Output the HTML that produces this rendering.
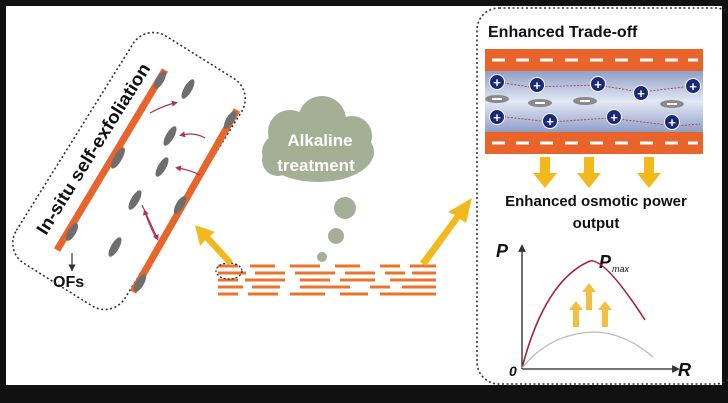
<!DOCTYPE html>
<html><head><meta charset="utf-8"><style>
html,body{margin:0;padding:0;background:#111;}
svg{display:block;font-family:"Liberation Sans",sans-serif;}
</style></head><body>
<svg width="728" height="403" viewBox="0 0 728 403">
<rect width="728" height="403" fill="#111"/>
<rect x="6" y="6" width="716" height="379" fill="#fff"/>
<defs>
<marker id="ya" markerWidth="6" markerHeight="6" refX="3" refY="3" orient="auto"><path d="M0,0 L6,3 L0,6z" fill="#333"/></marker>
<marker id="ra" markerWidth="5" markerHeight="5" refX="2.5" refY="2.5" orient="auto"><path d="M0,0 L5,2.5 L0,5z" fill="#b03050"/></marker>
<linearGradient id="ch" x1="0" y1="0" x2="0" y2="1"><stop offset="0" stop-color="#8e9fc8"/><stop offset="0.5" stop-color="#e4e8f4"/><stop offset="1" stop-color="#8e9fc8"/></linearGradient>
</defs>
<!-- left panel -->
<g transform="translate(129,171) rotate(-58)">
<rect x="-134" y="-64" width="268" height="128" rx="24" fill="none" stroke="#333" stroke-width="1.6" stroke-dasharray="2,2.5"/>
</g>
<line x1="57" y1="250" x2="165" y2="70" stroke="#e8642a" stroke-width="7"/>
<line x1="133" y1="292" x2="237" y2="110" stroke="#e8642a" stroke-width="7"/>
<g fill="#6e6e6e">
<ellipse cx="160" cy="80" rx="4" ry="10" transform="rotate(30 160 80)"/>
<ellipse cx="118" cy="158" rx="4" ry="12" transform="rotate(30 118 158)"/>
<ellipse cx="72" cy="232" rx="4" ry="10" transform="rotate(30 72 232)"/>
<ellipse cx="230" cy="120" rx="4" ry="10" transform="rotate(30 230 120)"/>
<ellipse cx="180" cy="205" rx="4" ry="10" transform="rotate(30 180 205)"/>
<ellipse cx="140" cy="283" rx="4" ry="10" transform="rotate(30 140 283)"/>
<ellipse cx="188" cy="89" rx="4" ry="11" transform="rotate(30 188 89)"/>
<ellipse cx="170" cy="136" rx="4" ry="11" transform="rotate(30 170 136)"/>
<ellipse cx="162" cy="167" rx="4" ry="11" transform="rotate(30 162 167)"/>
<ellipse cx="135" cy="200" rx="4" ry="11" transform="rotate(30 135 200)"/>
<ellipse cx="115" cy="247" rx="4" ry="11" transform="rotate(30 115 247)"/>
</g>
<g stroke="#b03050" stroke-width="1.2" fill="none" marker-end="url(#ra)">
<path d="M150,113 Q165,105 175,103"/>
<path d="M205,138 Q195,132 182,135"/>
<path d="M200,175 Q190,170 178,168"/>
<path d="M142,205 Q150,222 157,238"/>
<path d="M155,236 Q148,222 145,212"/>
</g>
<text x="0" y="0" font-size="18" font-weight="bold" fill="#111" textLength="198" lengthAdjust="spacingAndGlyphs" transform="translate(46,236) rotate(-58)">In-situ self-exfoliation</text>
<line x1="72" y1="253" x2="72" y2="268" stroke="#333" stroke-width="1.2" marker-end="url(#ya)"/>
<text x="53" y="287" font-size="16" font-weight="bold" fill="#111">OFs</text>
<!-- cloud -->
<g fill="#a3b096">
<ellipse cx="318" cy="152" rx="56" ry="30"/>
<circle cx="290" cy="132" r="22"/>
<circle cx="322" cy="120" r="24"/>
<circle cx="352" cy="136" r="20"/>
<circle cx="278" cy="160" r="16"/>
<circle cx="345" cy="208" r="11"/>
<circle cx="336" cy="236" r="8"/>
<circle cx="322" cy="257" r="5"/>
</g>
<text x="320" y="146" font-size="17" font-weight="bold" fill="#fff" text-anchor="middle">Alkaline</text>
<text x="316" y="171" font-size="17" font-weight="bold" fill="#fff" text-anchor="middle">treatment</text>
<!-- layers -->
<g stroke="#e8742e" stroke-width="3">
<path d="M218,266h20 M250,266h25 M290,266h30 M335,266h25 M380,266h20 M410,266h26"/>
<path d="M218,273h28 M255,273h30 M295,273h40 M345,273h30 M385,273h20 M412,273h24"/>
<path d="M218,280h20 M245,280h40 M300,280h30 M340,280h35 M390,280h46"/>
<path d="M218,287h25 M252,287h28 M300,287h50 M370,287h20 M402,287h34"/>
<path d="M218,294h20 M248,294h30 M290,294h35 M340,294h28 M380,294h56"/>
</g>
<ellipse cx="229" cy="271" rx="13" ry="8" fill="none" stroke="#222" stroke-width="1.2" stroke-dasharray="2,2"/>
<!-- yellow arrows -->
<path d="M228,265 L205,240 L200,246 L195,225 L215,232 L210,236 L233,261z" fill="#f2b81c"/>
<path d="M420,262 L455,215 L448,212 L472,198 L466,223 L460,219 L426,266z" fill="#f2b81c"/>
<!-- right panel -->
<rect x="477" y="8" width="260" height="376" rx="22" fill="none" stroke="#333" stroke-width="1.6" stroke-dasharray="2,2.5"/>
<text x="488" y="37" font-size="16" font-weight="bold" fill="#111">Enhanced Trade-off</text>
<rect x="485" y="49" width="218" height="22" fill="#e8642a"/>
<rect x="485" y="71" width="218" height="61" fill="url(#ch)"/>
<rect x="485" y="132" width="218" height="22" fill="#e8642a"/>
<g stroke="#fff" stroke-width="3">
<path d="M492,60h13 M516,60h13 M540,60h13 M565,60h13 M590,60h13 M615,60h13 M640,60h13 M665,60h13 M688,60h10"/>
<path d="M492,143h13 M516,143h13 M540,143h13 M565,143h13 M590,143h13 M615,143h13 M640,143h13 M665,143h13 M688,143h10"/>
</g>
<g fill="#8a8a8a"><ellipse cx="497" cy="99" rx="12" ry="4"/><ellipse cx="540" cy="103" rx="12" ry="4"/><ellipse cx="585" cy="101" rx="12" ry="4"/><ellipse cx="672" cy="104" rx="12" ry="4"/></g>
<g stroke="#fff" stroke-width="2"><path d="M492,99h10 M535,103h10 M580,101h10 M667,104h10"/></g>
<g stroke="#c04060" stroke-width="1" stroke-dasharray="2,1.5" fill="none"><path d="M497,82 L530,87 L598,85 L640,92 L693,86"/><path d="M497,116 L550,122 L610,118 L675,126 L700,124"/></g>
<g fill="#1b2a78" stroke="#fff" stroke-width="1">
<circle cx="497" cy="82" r="7.5"/><circle cx="537" cy="85" r="7.5"/><circle cx="598" cy="84" r="7.5"/><circle cx="641" cy="93" r="7.5"/><circle cx="693" cy="86" r="7.5"/>
<circle cx="497" cy="117" r="7.5"/><circle cx="550" cy="121" r="7.5"/><circle cx="614" cy="117" r="7.5"/><circle cx="672" cy="122" r="7.5"/>
</g>
<g fill="#fff" font-size="13" font-weight="bold" text-anchor="middle">
<text x="497" y="87">+</text><text x="537" y="90">+</text><text x="598" y="89">+</text><text x="641" y="98">+</text><text x="693" y="91">+</text>
<text x="497" y="122">+</text><text x="550" y="126">+</text><text x="614" y="122">+</text><text x="672" y="127">+</text>
</g>
<g fill="#f2b81c">
<path d="M540,157h10v16h7l-12,15l-12,-15h7z"/>
<path d="M584,157h10v16h7l-12,15l-12,-15h7z"/>
<path d="M644,157h10v16h7l-12,15l-12,-15h7z"/>
</g>
<text x="596" y="206" font-size="15" font-weight="bold" fill="#111" text-anchor="middle">Enhanced osmotic power</text>
<text x="596" y="228" font-size="15" font-weight="bold" fill="#111" text-anchor="middle">output</text>
<!-- graph -->
<line x1="522" y1="369" x2="522" y2="248" stroke="#222" stroke-width="1.3" marker-end="url(#ya)"/>
<line x1="522" y1="369" x2="676" y2="369" stroke="#222" stroke-width="1.3" marker-end="url(#ya)"/>
<text x="496" y="257" font-size="18" font-weight="bold" font-style="italic" fill="#111">P</text>
<text x="599" y="268" font-size="18" font-weight="bold" font-style="italic" fill="#111">P</text>
<text x="612" y="272" font-size="9" font-style="italic" fill="#111">max</text>
<text x="678" y="376" font-size="18" font-weight="bold" font-style="italic" fill="#111">R</text>
<text x="509" y="376" font-size="14" font-weight="bold" font-style="italic" fill="#111">0</text>
<path d="M522,368 Q545,280 590,261 Q605,258 645,320" fill="none" stroke="#a8203a" stroke-width="1.6"/>
<path d="M522,368 Q550,333 595,332 Q625,333 653,357" fill="none" stroke="#bbb" stroke-width="1.3"/>
<g fill="#f2c040">
<path d="M587,318h6v-18h4l-7,-9l-7,9h4z" transform="translate(-1,-8)"/>
<path d="M602,327h6v-17h4l-7,-9l-7,9h4z"/>
<path d="M573,327h6v-17h4l-7,-9l-7,9h4z"/>
</g>
</svg>
</body></html>
